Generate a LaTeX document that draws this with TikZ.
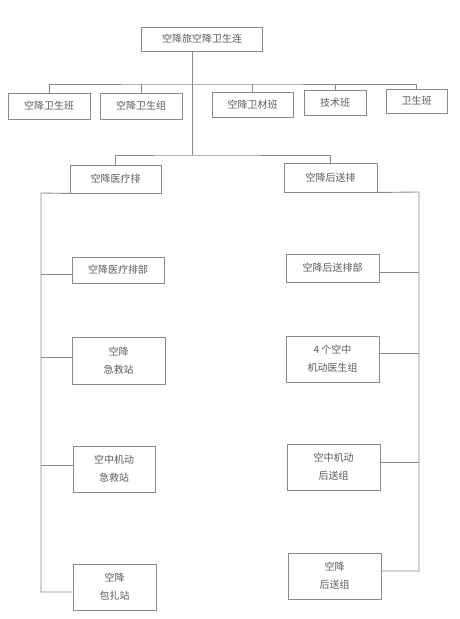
\documentclass[tikz,border=0pt]{standalone}
\usepackage{fontspec}
\usepackage{xcolor}
\usepackage{tikz}
\usetikzlibrary{positioning,calc}
\newfontfamily\cjk{Noto Sans CJK SC}
\definecolor{ink}{HTML}{5A5A5A}
\definecolor{line}{HTML}{8A8A8A}
\tikzset{
  link/.style={draw=line,line width=0.9pt},
  unit/.style={draw=line,line width=0.9pt,fill=white,align=center,inner sep=0pt,
    text=ink,font=\cjk\fontsize{10}{18}\selectfont},
  unitbox/.style n args={2}{unit,minimum width=#1,minimum height=#2}
}

\begin{document}
\begin{tikzpicture}[x=1pt,y=-1pt]
  \useasboundingbox[fill=white] (0,0) rectangle (459,619);
  % company and its sections
  \node[unitbox={121pt}{24pt}] (lian) at (202,39) {空降旅空降卫生连};
  \node[unitbox={82pt}{26pt}] (wsb) at (49,106) {空降卫生班};
  \node[unitbox={82pt}{26pt}] (wsz) at (141,106) {空降卫生组};
  \node[unitbox={81pt}{25pt}] (wcb) at (252.5,104.5) {空降卫材班};
  \node[unitbox={62pt}{25pt}] (jsb) at (335,102.5) {技术班};
  \node[unitbox={61pt}{24pt}] (wb) at (416.5,101) {卫生班};
  \coordinate (bus) at (192,84);
  \coordinate (fork) at (192,155);
  \draw[link] (lian.south -| bus) -- (fork);
  \draw[link] (wsb.north) |- (bus) -| (wb.north);
  \draw[link] (wsz.north) -- (wsz.north |- bus);
  \draw[link] (wcb.north) -- (wcb.north |- bus);
  \draw[link] (jsb.north) -- (jsb.north |- bus);
  % the two platoons
  \node[unitbox={91pt}{28pt}] (ylp) at (115.5,179) {空降医疗排};
  \node[unitbox={93pt}{29pt}] (hsp) at (330.5,177.5) {空降后送排};
  \draw[link] (ylp.north) |- (fork) -| (hsp.north);
  % medical platoon
  \node[unitbox={92pt}{26pt}] (ylb) at (118,270) {空降医疗排部};
  \node[unitbox={93pt}{47pt}] (jjz) at (118.5,360.5) {空降\\急救站};
  \node[unitbox={82pt}{46pt}] (kjz) at (114,469) {空中机动\\急救站};
  \node[unitbox={83pt}{46pt}] (bzz) at (114.5,587) {空降\\包扎站};
  \coordinate (lx) at (41,193);
  \draw[link] (ylp.south west) -- (lx) |- ([yshift=-5pt]bzz.west);
  \draw[link] ([yshift=-4pt]ylb.west) -- ([yshift=-4pt]ylb.west -| lx);
  \draw[link] ([yshift=3pt]jjz.west) -- ([yshift=3pt]jjz.west -| lx);
  \draw[link] ([yshift=4pt]kjz.west) -- ([yshift=4pt]kjz.west -| lx);
  % evacuation platoon
  \node[unitbox={93pt}{28pt}] (hsb) at (332.5,268) {空降后送排部};
  \node[unitbox={93pt}{46pt}] (ysz) at (332.5,359) {4 个空中\\机动医生组};
  \node[unitbox={93pt}{46pt}] (khz) at (333.5,467) {空中机动\\后送组};
  \node[unitbox={93pt}{46pt}] (khs) at (334.5,576) {空降\\后送组};
  \coordinate (rx) at (419,192);
  \draw[link] (hsp.south east) -- (rx) |- ([yshift=5pt]khs.east);
  \draw[link] ([yshift=-4pt]hsb.east) -- ([yshift=-4pt]hsb.east -| rx);
  \draw[link] ([yshift=6pt]ysz.east) -- ([yshift=6pt]ysz.east -| rx);
  \draw[link] ([yshift=5pt]khz.east) -- ([yshift=5pt]khz.east -| rx);
\end{tikzpicture}
\end{document}
